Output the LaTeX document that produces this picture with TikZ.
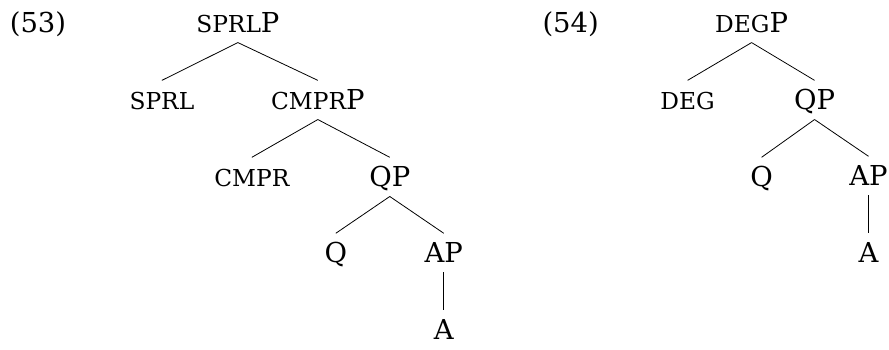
\documentclass[tikz,border=0pt]{standalone}
\usepackage{amsmath}
\usepackage{fontspec}
\setmainfont{DejaVu Serif}
\usepackage{tikz}

\newcommand{\smallcat}[1]{{\fontsize{17.5}{20}\selectfont #1}}

\begin{document}
\begin{tikzpicture}[x=0.75pt,y=0.75pt,yscale=-1,xscale=1,
    lab/.style={anchor=base,inner xsep=1pt,inner ysep=7pt,text height=15pt,text depth=0pt,font=\fontsize{20.6}{24}\selectfont},
    branch/.style={line width=0.6pt}]
        \path (0,0) rectangle (889,343); %fixes the picture size

        % Example numbers
        \node [lab] (ex53) at (38,33) {(53)};
        \node [lab] (ex54) at (571,33) {(54)};

        % Tree (53)
        \node [lab] (sprlP) at (238,33) {\smallcat{SPRL}P};
        \node [lab] (sprl) at (162,110) {\smallcat{SPRL}};
        \node [lab] (cmprP) at (318,110) {\smallcat{CMPR}P};
        \node [lab] (cmpr) at (252,187) {\smallcat{CMPR}};
        \node [lab] (qpA) at (390,187) {QP};
        \node [lab] (qA) at (336,263) {Q};
        \node [lab] (apA) at (444,263) {AP};
        \node [lab] (aA) at (444,340) {A};

        \draw [branch] (sprlP.south) -- (sprl.north);
        \draw [branch] (sprlP.south) -- (cmprP.north);
        \draw [branch] (cmprP.south) -- (cmpr.north);
        \draw [branch] (cmprP.south) -- (qpA.north);
        \draw [branch] (qpA.south) -- (qA.north);
        \draw [branch] (qpA.south) -- (apA.north);
        \draw [branch] (apA.south) -- (aA.north);

        % Tree (54)
        \node [lab] (degP) at (752,33) {\smallcat{DEG}P};
        \node [lab] (deg) at (688,110) {\smallcat{DEG}};
        \node [lab] (qpB) at (815,110) {QP};
        \node [lab] (qB) at (762,187) {Q};
        \node [lab] (apB) at (869,186) {AP};
        \node [lab] (aB) at (869,263) {A};

        \draw [branch] (degP.south) -- (deg.north);
        \draw [branch] (degP.south) -- (qpB.north);
        \draw [branch] (qpB.south) -- (qB.north);
        \draw [branch] (qpB.south) -- (apB.north);
        \draw [branch] (apB.south) -- (aB.north);

    \end{tikzpicture}
\end{document}
